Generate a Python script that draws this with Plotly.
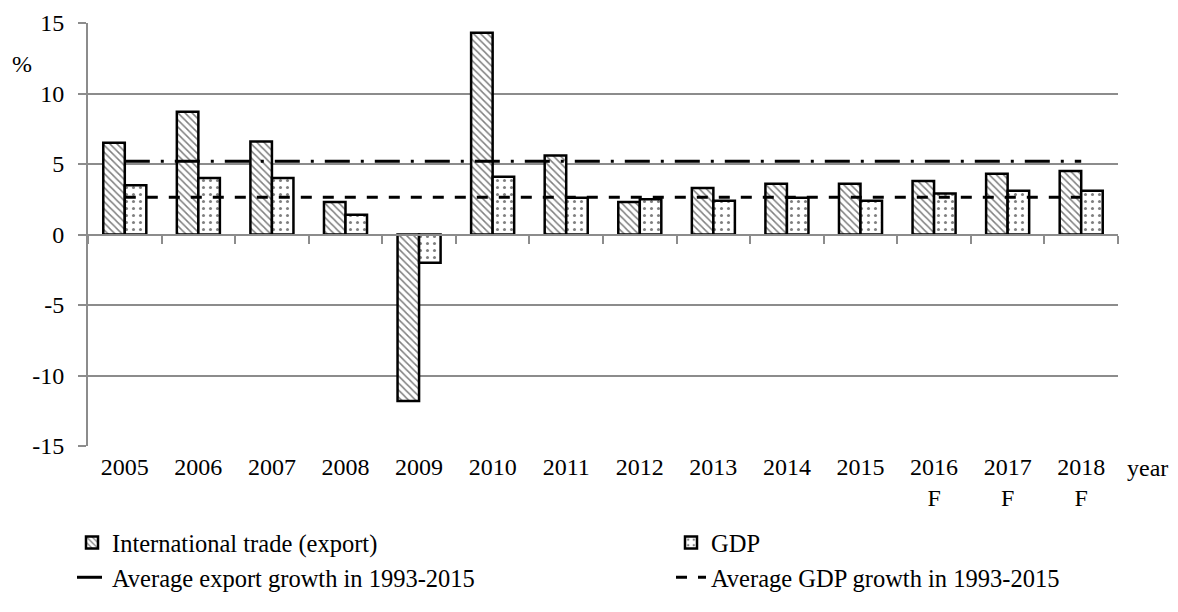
import plotly.graph_objects as go

years = ["2005", "2006", "2007", "2008", "2009", "2010", "2011", "2012", "2013",
         "2014", "2015", "2016<br>F", "2017<br>F", "2018<br>F"]
export_growth = [6.5, 8.7, 6.6, 2.3, -11.8, 14.3, 5.6, 2.3, 3.3, 3.6, 3.6, 3.8, 4.3, 4.5]
gdp_growth = [3.5, 4.0, 4.0, 1.4, -2.0, 4.1, 2.6, 2.5, 2.4, 2.6, 2.4, 2.9, 3.1, 3.1]
avg_export = 5.2
avg_gdp = 2.65
y_ticks = [-15, -10, -5, 0, 5, 10, 15]
y_tick_text = ["-15", "-10", "-5", "0", "5", "10", "15"]

FONT = "Liberation Serif, Times New Roman, serif"
GRID = "#8c8c8c"
FS = 24
LFS = 24.5
W, H = 1170, 604  # page body has an 8px margin in the 1178x612 window

fig = go.Figure()
fig.add_trace(go.Bar(
    x=years, y=export_growth, name="International trade (export)",
    legend="legend",
    marker=dict(color="white", line=dict(color="black", width=2.5),
                pattern=dict(shape="\\", fgcolor="black", bgcolor="white",
                             size=5, solidity=0.3)),
))
fig.add_trace(go.Bar(
    x=years, y=gdp_growth, name="GDP",
    legend="legend2",
    marker=dict(color="white", line=dict(color="black", width=2.5),
                pattern=dict(shape=".", fgcolor="black", bgcolor="white",
                             size=7, solidity=0.15)),
))
fig.add_trace(go.Scatter(
    x=[years[0], years[-1]], y=[avg_export, avg_export], mode="lines",
    name="Average export growth in 1993-2015", xaxis="x2",
    legend="legend",
    line=dict(color="black", width=3, dash="25px,11px,3px,11px"),
))
fig.add_trace(go.Scatter(
    x=[years[0], years[-1]], y=[avg_gdp, avg_gdp], mode="lines",
    name="Average GDP growth in 1993-2015", xaxis="x2",
    legend="legend2",
    line=dict(color="black", width=3, dash="11px,11px"),
))

leg_common = dict(orientation="h", xref="container", yref="container",
                  yanchor="top", xanchor="left", y=1 - 512 / H,
                  font=dict(size=LFS), traceorder="normal",
                  entrywidthmode="pixels", bgcolor="rgba(0,0,0,0)")

fig.update_layout(
    width=W, height=H,
    margin=dict(l=80, r=60, t=15, b=166, autoexpand=False),
    paper_bgcolor="white", plot_bgcolor="white",
    font=dict(family=FONT, size=FS, color="black"),
    barmode="group", bargap=0.415, bargroupgap=0,
    xaxis=dict(type="category", showline=False, showgrid=False, ticks="",
               tickfont=dict(size=FS), ticklabelstandoff=4, automargin=False),
    xaxis2=dict(type="category", overlaying="x", matches="x", anchor="free",
                position=0.5, side="bottom", showline=True, linecolor=GRID,
                linewidth=2, ticks="outside", tickson="boundaries", ticklen=8,
                tickcolor=GRID, tickwidth=2, showticklabels=False, showgrid=False,
                automargin=False),
    yaxis=dict(range=[-15, 15], tickvals=y_ticks, ticktext=y_tick_text,
               showgrid=True, gridcolor=GRID, gridwidth=2,
               zeroline=False, showline=True, linecolor=GRID, linewidth=2,
               ticks="outside", ticklen=8, tickcolor=GRID, tickwidth=2,
               tickfont=dict(size=FS), ticklabelstandoff=9, automargin=False),
    legend=dict(x=64 / W, entrywidth=560, **leg_common),
    legend2=dict(x=663 / W, entrywidth=480, **leg_common),
    annotations=[
        dict(text="year", xref="paper", yref="paper", x=1.0068, y=-0.052,
             xanchor="left", yanchor="middle", showarrow=False, font=dict(size=FS)),
        dict(text="%", xref="paper", yref="paper", x=-0.064, y=0.903,
             xanchor="center", yanchor="middle", showarrow=False, font=dict(size=FS)),
    ],
)

fig.write_html("out.html")
